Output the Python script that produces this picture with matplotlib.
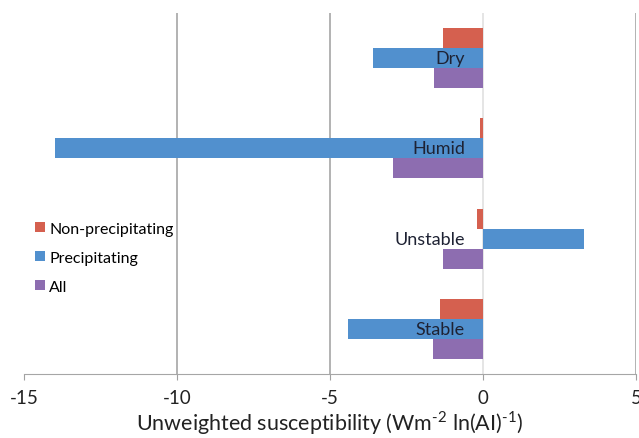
import numpy as np
import matplotlib.pyplot as plt

# susceptibility per regime, three cloud subsets
regimes = ["Dry", "Humid", "Unstable", "Stable"]
non_precip = [-1.3, -0.1, -0.2, -1.4]
precip = [-3.6, -14.0, 3.3, -4.4]
all_clouds = [-1.6, -2.95, -1.3, -1.65]

series = [
    ("Non-precipitating", non_precip, "#D5604F"),
    ("Precipitating", precip, "#5190CE"),
    ("All", all_clouds, "#8D6DB0"),
]

xticks = [-15, -10, -5, 0, 5]

plt.rcParams['font.family'] = ['Lato', 'DejaVu Sans']
plt.rcParams['mathtext.fontset'] = 'custom'
plt.rcParams['mathtext.rm'] = 'Lato'
plt.rcParams['axes.unicode_minus'] = False

fig = plt.figure(figsize=(6.39, 4.39), dpi=100)
ax = fig.add_axes([24 / 639, 1 - 375 / 439, 612 / 639, 361 / 439])

y = np.arange(len(regimes))
h = 0.222
for k, (name, vals, col) in enumerate(series):
    ax.barh(y + (k - 1) * h, vals, height=h, color=col, label=name, zorder=3)

ax.set_xlim(-15, 5)
ax.set_ylim(len(regimes) - 0.5, -0.5)
ax.set_yticks([])
ax.set_xticks(xticks)
ax.set_xticklabels([str(t) for t in xticks], fontsize=13.5, color="#222222")
ax.tick_params(axis="x", direction="out", length=4, color="#A0A0A0", pad=7)

# vertical gridlines, zero line lighter, left edge none
for t in xticks[1:]:
    c = "#E0E0E0" if t == 0 else "#A6A6A6"
    ax.axvline(t, color=c, lw=1.2, zorder=1)

for s in ["left", "right", "top"]:
    ax.spines[s].set_visible(False)
ax.spines["bottom"].set_color("#A6A6A6")

# regime names next to the zero axis
for i, name in enumerate(regimes):
    ax.annotate(name, xy=(0, i), xytext=(-13, 0), textcoords="offset points",
                ha="right", va="center", fontsize=13, color="#1E2233", zorder=4)

ax.set_xlabel(r"Unweighted susceptibility (Wm$^{\text{-2}}$ ln(AI)$^{\text{-1}}$)",
              fontsize=15.5, color="#222222", labelpad=1)

ax.legend(loc="center left", bbox_to_anchor=(0.005, 0.322), frameon=False,
          fontsize=11.5, handlelength=0.6, handleheight=0.6, handletextpad=0.3,
          labelspacing=0.95, borderpad=0)

fig.savefig("out.png", dpi=100)
